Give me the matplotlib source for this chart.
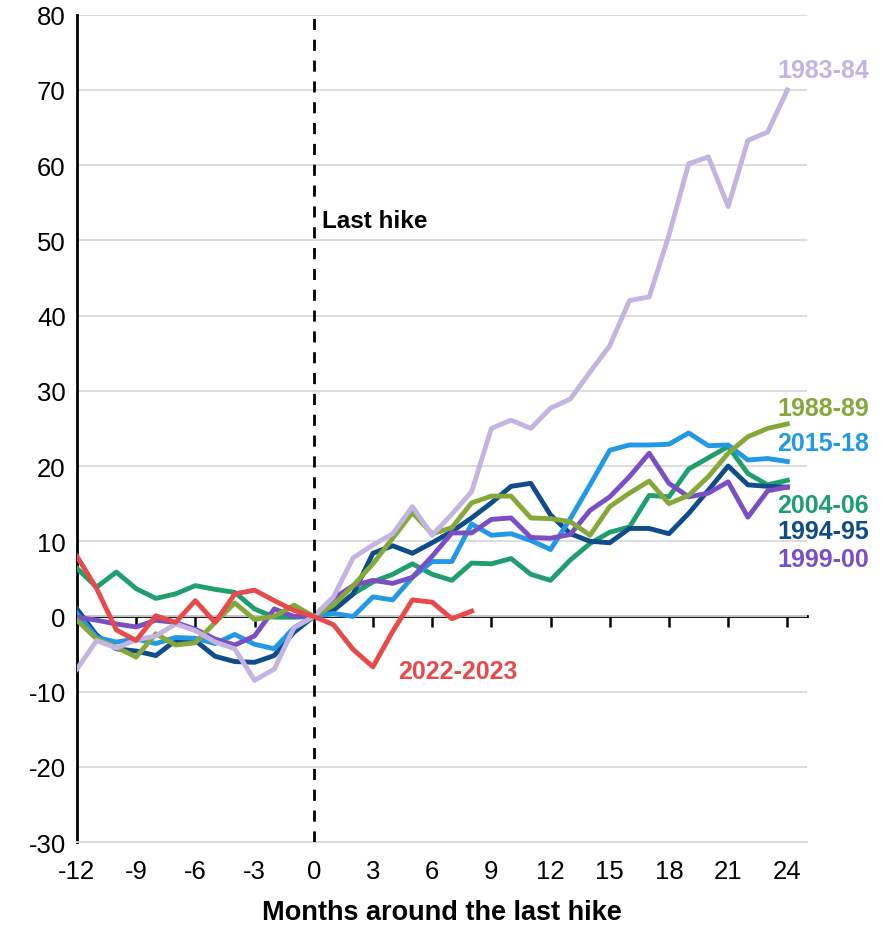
import numpy as np
import matplotlib
matplotlib.use('Agg')
import matplotlib.pyplot as plt

plt.rcParams['font.family'] = ['Liberation Sans Narrow', 'Liberation Sans', 'DejaVu Sans']
plt.rcParams['axes.unicode_minus'] = False

months = list(range(-12, 25))
months_2022 = list(range(-12, 9))

s1983 = [-7.0, -3.2, -4.2, -3.1, -2.6, -1.0, -1.9, -3.4, -4.3, -8.5, -7.0, -1.5, 0,
         2.6, 7.8, 9.5, 11.0, 14.6, 10.8, 13.6, 16.6, 25.0, 26.1, 25.0, 27.7,
         28.9, 32.5, 36.0, 42.0, 42.5, 50.7, 60.2, 61.1, 54.5, 63.3, 64.4, 70.0]
s1988 = [-0.5, -3.0, -4.1, -5.4, -2.3, -3.8, -3.5, -0.8, 1.8, -0.4, 0.0, 1.5, 0,
         1.5, 4.1, 7.0, 10.4, 13.8, 11.0, 11.8, 15.1, 16.0, 16.0, 13.1, 13.0,
         12.6, 10.8, 14.6, 16.4, 18.0, 15.0, 16.1, 18.6, 21.7, 23.9, 25.0, 25.6]
s2015 = [0.4, -2.8, -3.4, -3.0, -3.6, -2.8, -2.9, -3.6, -2.4, -3.7, -4.3, -1.5, 0,
         0.4, 0.0, 2.6, 2.2, 5.2, 7.3, 7.3, 12.3, 10.8, 11.0, 10.1, 8.9,
         13.0, 17.5, 22.1, 22.8, 22.8, 22.9, 24.4, 22.7, 22.8, 20.8, 21.0, 20.6]
s2004 = [6.4, 3.9, 5.9, 3.7, 2.4, 3.0, 4.1, 3.6, 3.2, 1.0, -0.1, -0.1, 0,
         0.9, 3.0, 4.6, 5.6, 7.0, 5.6, 4.8, 7.1, 7.0, 7.7, 5.6, 4.8,
         7.5, 9.7, 11.2, 11.9, 16.1, 15.9, 19.6, 21.1, 22.6, 19.0, 17.5, 18.1]
s1994 = [1.0, -2.5, -4.3, -4.6, -5.2, -3.2, -3.2, -5.3, -6.0, -6.1, -5.2, -2.1, 0,
         0.8, 3.0, 8.4, 9.4, 8.4, 9.8, 11.3, 13.1, 15.1, 17.3, 17.7, 13.5,
         11.0, 10.0, 9.8, 11.7, 11.7, 11.0, 13.7, 16.8, 20.0, 17.5, 17.3, 17.2]
s1999 = [-0.1, -0.5, -1.0, -1.4, -0.5, -0.8, -1.7, -3.0, -3.8, -2.6, 1.0, 0.0, 0,
         2.4, 4.1, 4.8, 4.4, 5.2, 8.0, 11.1, 11.1, 12.9, 13.1, 10.5, 10.4,
         10.9, 14.1, 15.9, 18.6, 21.7, 17.7, 15.9, 16.4, 17.9, 13.2, 16.7, 17.2]
s2022 = [8.0, 3.7, -1.8, -3.2, 0.1, -0.8, 2.1, -0.8, 3.0, 3.5, 2.1, 0.8, 0,
         -1.1, -4.4, -6.7, -2.0, 2.2, 1.9, -0.3, 0.7]

series = [
    ('2004-06', s2004, '#1f9e6e', 14.8),
    ('1994-95', s1994, '#0f4c8a', 11.4),
    ('2015-18', s2015, '#2299e6', 23.0),
    ('1999-00', s1999, '#7b4fc4', 7.7),
    ('1988-89', s1988, '#86a83b', 27.7),
    ('1983-84', s1983, '#c3b4e2', 72.6),
]

fig = plt.figure(figsize=(8.84, 9.29), dpi=100)
ax = fig.add_axes([0.087, 0.0925, 0.826, 0.8905])
ymin, ymax = -30, 80
ax.set_xlim(-12, 25)
ax.set_ylim(ymin, ymax)

ax.set_yticks(range(-30, 81, 10))
ax.yaxis.grid(True, color='#d9d9d9', lw=1.3)
ax.set_axisbelow(True)
ax.set_xticks(range(-12, 25, 3))
ax.tick_params(axis='both', length=0, labelsize=18.5)
ax.tick_params(axis='x', pad=12)
ax.tick_params(axis='y', pad=8)

for s in ['top', 'right']:
    ax.spines[s].set_visible(False)
ax.spines['bottom'].set_color('#d9d9d9')
ax.spines['bottom'].set_linewidth(1.3)
ax.spines['left'].set_linewidth(2)

# zero line with tick marks
sec = ax.secondary_xaxis((0 - ymin) / (ymax - ymin))
sec.set_xticks(range(-12, 25, 3))
sec.tick_params(axis='x', direction='out', length=8, width=1.8, labelbottom=False)
sec.spines['bottom'].set_linewidth(2)
sec.spines['bottom'].set_color('black')

ax.axvline(0, color='black', lw=2, ls=(0, (4, 3.5)), zorder=5)
ax.text(0.4, 52.7, 'Last hike', fontsize=17.5, fontweight='bold',
        family=['Liberation Sans', 'DejaVu Sans'], va='center')

for name, vals, col, ly in series:
    ax.plot(months, vals, color=col, lw=3.5, zorder=3)
    ax.text(23.5, ly, name, color=col, fontsize=18, fontweight='bold',
            family=['Liberation Sans', 'DejaVu Sans'], va='center')

ax.plot(months_2022, s2022, color='#e84a4c', lw=3.5, zorder=4)
ax.text(4.3, -7.3, '2022-2023', color='#e84a4c', fontsize=18, fontweight='bold',
        family=['Liberation Sans', 'DejaVu Sans'], va='center')

ax.set_xlabel('Months around the last hike', fontsize=19.5, fontweight='bold', labelpad=12)

fig.savefig('out.png', dpi=100)
